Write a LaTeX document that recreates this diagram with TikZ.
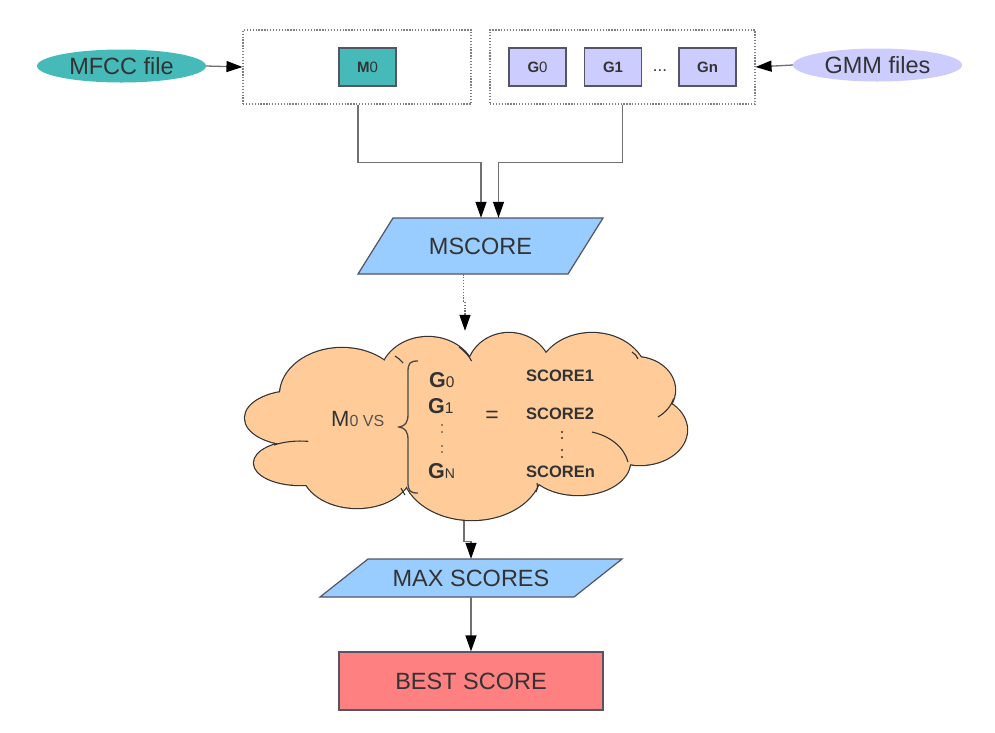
\documentclass[tikz,border=0pt]{standalone}
\usepackage{fontspec}
\setmainfont{Liberation Sans}
\usetikzlibrary{arrows.meta,shapes.geometric,calc}
\definecolor{txtgray}{HTML}{333333}
\definecolor{linegray}{HTML}{707070}
\definecolor{dotgray}{HTML}{808080}
\definecolor{tealc}{HTML}{46B9B9}
\definecolor{lavc}{HTML}{CCCCFF}
\definecolor{bluec}{HTML}{99CCFF}
\definecolor{peachc}{HTML}{FFCC99}
\definecolor{redc}{HTML}{FF8080}
\definecolor{edgec}{HTML}{555566}
\newcommand{\fs}[1]{\fontsize{#1}{#1}\selectfont}
\begin{document}
\begin{tikzpicture}[x=1pt,y=-1pt,
  bigtxt/.style={text=txtgray,font=\fs{23.5}},
  conn/.style={draw=linegray,line width=1.3pt,-{Triangle[length=16pt,width=11pt,color=black,fill=black]}},
  dotbox/.style={draw=dotgray,line width=1.1pt,dash pattern=on 1.3pt off 1.6pt,inner sep=0},
  smallbox/.style={draw=edgec,line width=1.2pt,minimum width=57,minimum height=38,inner sep=0,text=txtgray,font=\fs{15}},
  fileell/.style={ellipse,minimum width=169,minimum height=33,inner sep=0},
  para/.style={draw=edgec,line width=1.2pt,fill=bluec},
  lobe/.style={draw=txtgray,line width=2.4pt},
  curl/.style={draw=txtgray,line width=1.1pt}
]
\useasboundingbox (0,0) rectangle (995,732);
\fill[white] (0,0) rectangle (995,732);

% top row
\node[fileell,fill=tealc,bigtxt] (mfcc) at (121.5,66) {MFCC file};
\node[dotbox,minimum width=228,minimum height=74] (lbox) at (357,67) {};
\node[smallbox,fill=tealc] (m0) at (367.5,67) {\textbf{M}0};
\node[dotbox,minimum width=265,minimum height=74] (rbox) at (622.5,67) {};
\node[smallbox,fill=lavc] (g0) at (537.5,67) {\textbf{G}0};
\node[smallbox,fill=lavc] (g1) at (613,67) {\textbf{G1}};
\node[text=txtgray,font=\fs{17},inner sep=0] (gdots) at (660,71) {...};
\node[smallbox,fill=lavc] (gn) at (707.5,67) {\textbf{Gn}};
\node[fileell,fill=lavc,bigtxt] (gmm) at (877.5,65) {GMM files};

\draw[conn] (mfcc.east) -- (lbox.west);
\draw[conn] (gmm.west) -- (rbox.east);

% MSCORE parallelogram
\draw[para] (393,218) -- (603,218) -- (568,274) -- (358,274) -- cycle;
\node[bigtxt,minimum width=200,minimum height=56,inner sep=0] (mscore) at (480.5,246) {MSCORE};

\draw[conn] ($(lbox.south)+(1,0)$) -- ++(0,58) -| ($(mscore.north)+(0.5,0)$);
\draw[conn] (rbox.south) -- ++(0,58) -| ($(mscore.north)+(18,0)$);

% cloud
\foreach \c/\rx/\ry in {{(295,418)}/50/27, {(300,463)}/46/22, {(357,470)}/55/38, {(472,468)}/70/52,
  {(578,462)}/52/33, {(640,430)}/47/35, {(635,390)}/40/33, {(592,378)}/55/45,
  {(509,372)}/42/39, {(428,378)}/48/41, {(342,395)}/62/47, {(466,425)}/170/60}
  \draw[lobe] \c ellipse [x radius=\rx, y radius=\ry];
\foreach \c/\rx/\ry in {{(295,418)}/50/27, {(300,463)}/46/22, {(357,470)}/55/38, {(472,468)}/70/52,
  {(578,462)}/52/33, {(640,430)}/47/35, {(635,390)}/40/33, {(592,378)}/55/45,
  {(509,372)}/42/39, {(428,378)}/48/41, {(342,395)}/62/47, {(466,425)}/170/60}
  \fill[peachc] \c ellipse [x radius=\rx, y radius=\ry];
% inner curls of the cloud
\draw[curl] (592,432) .. controls (610,436) and (624,447) .. (628,462);
\draw[curl] (274,445) arc[start angle=-125, end angle=-80, x radius=46, y radius=22];
\draw[curl] (673.6,398.5) arc[start angle=15, end angle=55, x radius=40, y radius=33];
\draw[curl] (459,347) arc[start angle=-50, end angle=-25, x radius=48, y radius=41];
\draw[curl] (395,356) .. controls (398,358) and (401,360) .. (403,363);
\draw[curl] (632,352) .. controls (635,354) and (637,356) .. (638,359);
\draw[curl] (405,495) .. controls (403,492) and (402,490) .. (401,488);
\draw[curl] (537,483) .. controls (538,487) and (537,490) .. (536,492);
\node[minimum width=443,minimum height=190,inner sep=0] (cloud) at (466,426) {};

% cloud text
\node[anchor=base west,inner sep=0,text=txtgray] (mvs) at (331,426) {\fs{22}M\fs{16}\color{txtgray!85}0 VS};
\draw[txtgray!90,line width=1.3pt] (418,361) .. controls (410,361) and (408,363) .. (408,372) -- (408,414)
  .. controls (408,423) and (405,426) .. (399,427) .. controls (405,428) and (408,431) .. (408,440)
  -- (408,482) .. controls (408,491) and (410,493) .. (418,493);
\node[anchor=base west,inner sep=0,text=txtgray] (gz) at (429,387) {\fs{21.5}\textbf{G}\fs{15.5}0};
\node[anchor=base west,inner sep=0,text=txtgray] (go) at (428,413) {\fs{21.5}\textbf{G}\fs{15.5}1};
\node[anchor=base west,inner sep=0,text=txtgray] (gN) at (428,478) {\fs{21.5}\textbf{G}\fs{14}N};
\foreach \yy in {425,432,446,452} \fill[txtgray] (442,\yy) circle (0.8);
\node[inner sep=0,text=txtgray,font=\fs{23}] (eq) at (492,417) {=};
\node[anchor=base west,inner sep=0,text=txtgray,font=\fs{16.5}\bfseries] (s1) at (526,381) {SCORE1};
\node[anchor=base west,inner sep=0,text=txtgray,font=\fs{16.5}\bfseries] (s2) at (526,419) {SCORE2};
\node[anchor=base west,inner sep=0,text=txtgray,font=\fs{16.5}\bfseries] (sn) at (526,477) {SCOREn};
\foreach \yy in {432,438,450,457} \fill[txtgray] (562,\yy) circle (1.2);

\draw[conn,dash pattern=on 1.3pt off 1.6pt] ($(mscore.south)+(-17,0)$) -- ++(0,28) -| ($(cloud.north)+(-1,0)$);

% MAX SCORES
\draw[para] (368,559) -- (622,559) -- (574,597) -- (320,597) -- cycle;
\node[bigtxt,minimum width=200,minimum height=38,inner sep=0] (maxs) at (471,578) {MAX SCORES};
\draw[conn] ($(cloud.south)+(-2,0)$) -- ++(0,20) -| (maxs.north);

% BEST SCORE
\node[draw=edgec,line width=1.2pt,fill=redc,minimum width=264,minimum height=58,inner sep=0,bigtxt] (best) at (471,681) {BEST SCORE};
\draw[conn] (maxs.south) -- (best.north);
\end{tikzpicture}
\end{document}
